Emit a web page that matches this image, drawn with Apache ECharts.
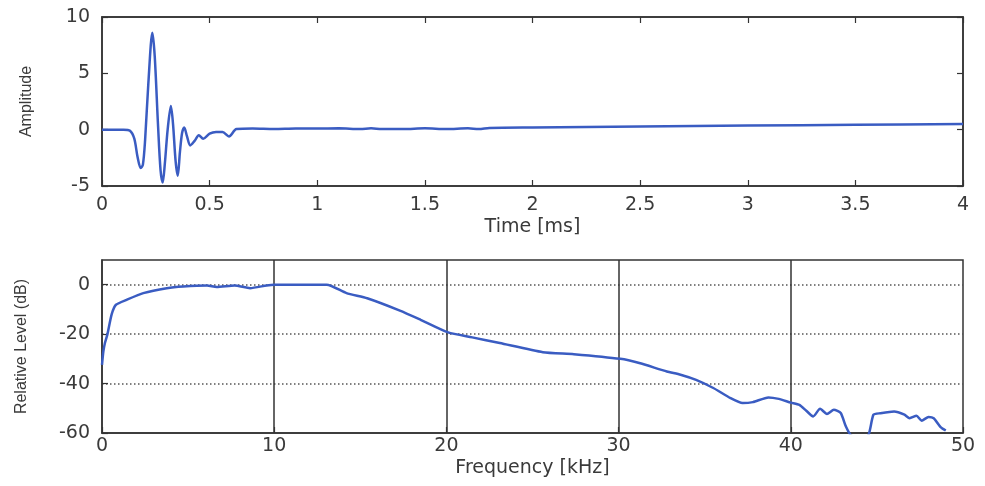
<!DOCTYPE html>
<html style="height: 100%">
<head>
    <meta charset="utf-8">
    <script src="https://cdn.jsdelivr.net/npm/echarts@6/dist/echarts.min.js"></script>
    <title>Impulse and spectrum</title>
</head>
<body style="height: 100%; margin: 0; background: #fff">
<div id="container" style="width: 985px; height: 486px"></div>
<script type="text/javascript">
// upper plot: impulse response
let timeMs = [0, 0.05, 0.10, 0.13, 0.15, 0.165, 0.18, 0.19, 0.20, 0.215, 0.234, 0.245, 0.26, 0.272, 0.282, 0.292,
    0.305, 0.32, 0.33, 0.342, 0.352, 0.362, 0.372, 0.382, 0.395, 0.41, 0.43, 0.45, 0.47, 0.50, 0.53, 0.56, 0.59,
    0.625, 0.7, 0.8, 0.9, 1.0, 1.1, 1.2, 1.25, 1.3, 1.4, 1.5, 1.6, 1.7, 1.75, 1.8, 2.0, 2.5, 3.0, 3.5, 4.0]
let amplitude = [0, 0, 0, -0.1, -0.8, -2.4, -3.4, -3.1, -1.0, 4.0, 8.6, 6.5, 0.5, -3.6, -4.7, -3.0,
    0.0, 2.1, 0.5, -2.8, -4.1, -2.0, -0.3, 0.2, -0.6, -1.4, -1.0, -0.5, -0.8, -0.35, -0.2, -0.2, -0.6,
    0.05, 0.1, 0.05, 0.1, 0.1, 0.12, 0.05, 0.12, 0.05, 0.05, 0.12, 0.05, 0.12, 0.05, 0.15, 0.2, 0.28, 0.36, 0.43, 0.5]

// lower plot: spectrum
let freqKHz = [0, 0.08, 0.17, 0.31, 0.56, 0.81, 1.43, 2.4, 3.76, 4.72, 6.1, 6.66, 7.7, 8.6, 9.56, 10, 11, 12, 13.05,
    14.2, 15.4, 17.3, 18.5, 20.1, 21.5, 23.1, 25.6, 27.4, 30.1, 31.2, 32.8, 33.6, 34.5, 35.5, 36.5, 37.2, 37.8,
    38.7, 39.3, 40, 40.5, 40.9, 41.3, 41.7, 42.1, 42.5, 42.9, 43.2, 43.5, 44.0, 44.5, 44.8, 45.2, 46, 46.6, 46.9,
    47.3, 47.6, 48.0, 48.3, 48.7, 49.0]
let levelDb = [-32.4, -27, -23.6, -20.2, -12, -8.1, -6.1, -3.4, -1.4, -0.7, -0.3, -0.9, -0.3, -1.4, -0.3, 0, 0, 0, 0,
    -3.4, -5.5, -10.5, -14.2, -19.3, -21.3, -23.6, -27.3, -28.1, -30, -31.7, -35.1, -36.4, -38.5, -41.8, -45.9, -47.9, -47.5,
    -45.6, -46.2, -47.7, -48.6, -51, -53.3, -50.2, -52.3, -50.6, -51.9, -57.4, -61, -62, -61, -52.6, -52, -51.3, -52.6, -54,
    -53, -55, -53.5, -54, -57.6, -59]

let timeTicks = ['0', '0.5', '1', '1.5', '2', '2.5', '3', '3.5', '4']

function zip(xs, ys) {
    let out = []
    for (let i in xs) out.push([xs[i], ys[i]])
    return out
}

let textColor = '#3a3a3a'
let lineColor = '#3a5cc2'
let tickFont = {color: textColor, fontSize: 19, fontFamily: 'DejaVu Sans'}
let nameFont = {color: textColor, fontSize: 19, fontFamily: 'DejaVu Sans'}
let yNameFont = {color: textColor, fontSize: 16, fontFamily: 'Liberation Sans'}
let axisLine = {show: true, onZero: false, lineStyle: {color: '#333', width: 1.5}}
let tickIn = {show: true, inside: true, length: 6, lineStyle: {color: '#333', width: 1.2}}

let chart = echarts.init(document.getElementById('container'))
chart.setOption({
    animation: false,
    grid: [
        {left: 102, right: 22, top: 17, height: 169, show: true, borderColor: '#333', borderWidth: 1.5},
        {left: 102, right: 22, top: 260, height: 173, show: true, borderColor: '#333', borderWidth: 1.5}
    ],
    xAxis: [
        {
            type: 'value', gridIndex: 0, min: 0, max: 4, interval: 0.5,
            name: 'Time [ms]', nameLocation: 'middle', nameGap: 32, nameTextStyle: nameFont,
            axisLine: axisLine, axisTick: tickIn, splitLine: {show: false},
            axisLabel: Object.assign({margin: 10, formatter: v => timeTicks[Math.round(v * 2)]}, tickFont)
        },
        {
            type: 'value', gridIndex: 0, min: 0, max: 4, interval: 0.5, position: 'top',
            axisLine: axisLine, axisTick: tickIn, axisLabel: {show: false}, splitLine: {show: false}
        },
        {
            type: 'value', gridIndex: 1, min: 0, max: 50, interval: 10,
            name: 'Frequency [kHz]', nameLocation: 'middle', nameGap: 26, nameTextStyle: nameFont,
            axisLine: axisLine, axisTick: tickIn,
            axisLabel: Object.assign({margin: 4}, tickFont),
            splitLine: {show: true, showMinLine: false, showMaxLine: false,
                lineStyle: {color: '#333', width: 1.5, type: 'solid'}}
        }
    ],
    yAxis: [
        {
            type: 'value', gridIndex: 0, min: -5, max: 10, interval: 5,
            name: 'Amplitude', nameLocation: 'middle', nameGap: 67, nameTextStyle: yNameFont,
            axisLine: axisLine, axisTick: tickIn, splitLine: {show: false},
            axisLabel: Object.assign({margin: 12}, tickFont)
        },
        {
            type: 'value', gridIndex: 0, min: -5, max: 10, interval: 5, position: 'right',
            axisLine: axisLine, axisTick: tickIn, axisLabel: {show: false}, splitLine: {show: false}
        },
        {
            type: 'value', gridIndex: 1, min: -60, max: 10, interval: 20,
            name: 'Relative Level (dB)', nameLocation: 'middle', nameGap: 72, nameTextStyle: yNameFont,
            axisLine: axisLine, axisTick: tickIn,
            axisLabel: Object.assign({margin: 12, showMaxLabel: false, formatter: v => v > 0 ? '' : String(v)}, tickFont),
            splitLine: {show: true, showMinLine: false, showMaxLine: false,
                lineStyle: {color: '#555', width: 1.5, type: [1.5, 2.5]}}
        }
    ],
    series: [
        {
            type: 'line', xAxisIndex: 0, yAxisIndex: 0, data: zip(timeMs, amplitude),
            showSymbol: false, smooth: 0.3, lineStyle: {color: lineColor, width: 2.5}
        },
        {
            type: 'line', xAxisIndex: 2, yAxisIndex: 2, data: zip(freqKHz, levelDb),
            showSymbol: false, smooth: 0.2, clip: true, lineStyle: {color: lineColor, width: 2.5}
        }
    ]
}, true)
</script>
</body>
</html>
